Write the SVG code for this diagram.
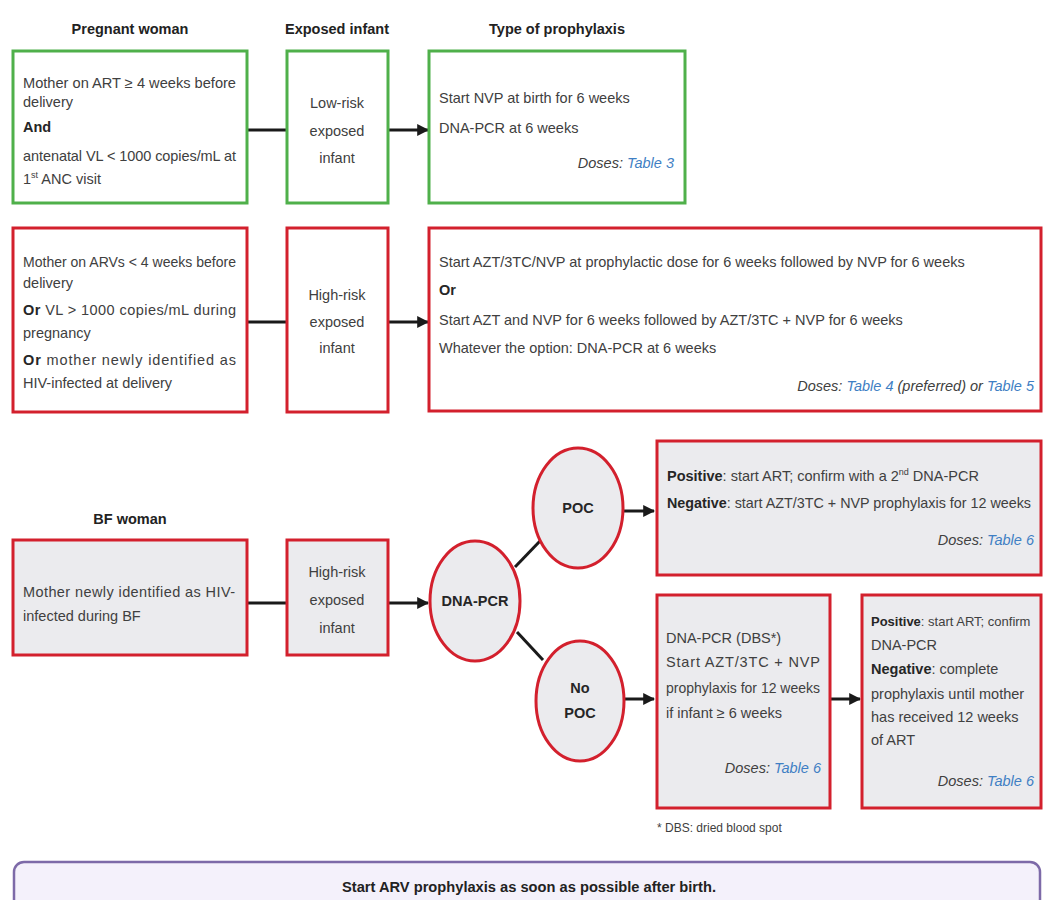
<svg xmlns="http://www.w3.org/2000/svg" width="1043" height="900" viewBox="0 0 1043 900">
<style>
text{font-family:"Liberation Sans",Arial,sans-serif;font-size:14.5px;fill:#404040}
.h{font-weight:bold;fill:#222;text-anchor:middle}
.b{font-weight:bold;fill:#262626}
.c{text-anchor:middle}
.r{text-anchor:end;font-style:italic}
.lk{fill:#3f7fc4}
.sup{font-size:9px}
.fn{font-size:12px}
.sm{font-size:13px}
.gbox{fill:#fff;stroke:#4fb04a;stroke-width:3}
.rbox{fill:#fff;stroke:#d3202d;stroke-width:3}
.rgray{fill:#ebebee;stroke:#d3202d;stroke-width:3}
.conn{stroke:#1a1a1a;stroke-width:3;fill:none}
.arr{stroke:#1a1a1a;stroke-width:3;fill:none;marker-end:url(#ah)}
</style>
<defs>
<marker id="ah" viewBox="0 0 10 10" refX="9" refY="5" markerWidth="4" markerHeight="4" orient="auto" markerUnits="strokeWidth">
<path d="M0,0L10,5L0,10z" fill="#1a1a1a"/>
</marker>
</defs>
<rect width="1043" height="900" fill="#fff"/>

<g id="headers">
<text class="h" x="130" y="34">Pregnant woman</text>
<text class="h" x="337" y="34">Exposed infant</text>
<text class="h" x="557" y="34">Type of prophylaxis</text>
<text class="h" x="130" y="524">BF woman</text>
</g>

<g id="connectors">
<line class="conn" x1="247" y1="130" x2="287" y2="130"/>
<line class="arr" x1="388" y1="130" x2="428" y2="130"/>
<line class="conn" x1="247" y1="322" x2="287" y2="322"/>
<line class="arr" x1="388" y1="322" x2="428" y2="322"/>
<line class="conn" x1="247" y1="603" x2="287" y2="603"/>
<line class="arr" x1="388" y1="603" x2="428" y2="603"/>
<line class="conn" x1="515" y1="567" x2="541" y2="540"/>
<line class="conn" x1="517" y1="632" x2="543" y2="660"/>
<line class="arr" x1="624" y1="511" x2="654" y2="511"/>
<line class="arr" x1="625" y1="699" x2="654" y2="699"/>
<line class="arr" x1="830" y1="699" x2="860" y2="699"/>
</g>

<g id="n-low-mother">
<rect class="gbox" x="13" y="51" width="234" height="152"/>
<text x="23" y="88" textLength="213" lengthAdjust="spacingAndGlyphs">Mother on ART ≥ 4 weeks before</text>
<text x="23" y="107">delivery</text>
<text x="23" y="132" class="b">And</text>
<text x="23" y="161" textLength="213" lengthAdjust="spacing">antenatal VL &lt; 1000 copies/mL at</text>
<text x="23" y="184">1<tspan class="sup" dy="-6">st</tspan><tspan dy="6"> ANC visit</tspan></text>
</g>

<g id="n-low-infant">
<rect class="gbox" x="287" y="51" width="101" height="152"/>
<text class="c" x="337" y="108">Low-risk</text>
<text class="c" x="337" y="136">exposed</text>
<text class="c" x="337" y="163">infant</text>
</g>

<g id="n-low-proph">
<rect class="gbox" x="429" y="51" width="256" height="152"/>
<text x="439" y="103">Start NVP at birth for 6 weeks</text>
<text x="439" y="133">DNA-PCR at 6 weeks</text>
<text class="r" x="674" y="168">Doses: <tspan class="lk">Table 3</tspan></text>
</g>

<g id="n-high-mother">
<rect class="rbox" x="13" y="228" width="234" height="184"/>
<text x="23" y="267" textLength="213" lengthAdjust="spacingAndGlyphs">Mother on ARVs &lt; 4 weeks before</text>
<text x="23" y="288">delivery</text>
<text x="23" y="315" textLength="213" lengthAdjust="spacing"><tspan class="b">Or</tspan> VL &gt; 1000 copies/mL during</text>
<text x="23" y="338">pregnancy</text>
<text x="23" y="365" textLength="213" lengthAdjust="spacing"><tspan class="b">Or</tspan> mother newly identified as</text>
<text x="23" y="388">HIV-infected at delivery</text>
</g>

<g id="n-high-infant">
<rect class="rbox" x="287" y="228" width="101" height="184"/>
<text class="c" x="337" y="300">High-risk</text>
<text class="c" x="337" y="327">exposed</text>
<text class="c" x="337" y="353">infant</text>
</g>

<g id="n-high-proph">
<rect class="rbox" x="429" y="228" width="612" height="183"/>
<text x="439" y="267">Start AZT/3TC/NVP at prophylactic dose for 6 weeks followed by NVP for 6 weeks</text>
<text x="439" y="295" class="b">Or</text>
<text x="439" y="325">Start AZT and NVP for 6 weeks followed by AZT/3TC + NVP for 6 weeks</text>
<text x="439" y="353">Whatever the option: DNA-PCR at 6 weeks</text>
<text class="r" x="1034" y="391">Doses: <tspan class="lk">Table 4</tspan> (preferred) or <tspan class="lk">Table 5</tspan></text>
</g>

<g id="n-bf-mother">
<rect class="rgray" x="13" y="540" width="234" height="115"/>
<text x="23" y="597" textLength="212" lengthAdjust="spacing">Mother newly identified as HIV-</text>
<text x="23" y="621">infected during BF</text>
</g>

<g id="n-bf-infant">
<rect class="rgray" x="287" y="540" width="101" height="115"/>
<text class="c" x="337" y="577">High-risk</text>
<text class="c" x="337" y="605">exposed</text>
<text class="c" x="337" y="633">infant</text>
</g>

<g id="n-dnapcr">
<ellipse class="rgray" cx="475" cy="601" rx="45" ry="60"/>
<text class="c b" x="475" y="606">DNA-PCR</text>
</g>

<g id="n-poc">
<ellipse class="rgray" cx="578" cy="508" rx="45" ry="60"/>
<text class="c b" x="578" y="513">POC</text>
</g>

<g id="n-nopoc">
<ellipse class="rgray" cx="580" cy="701" rx="44" ry="60"/>
<text class="c b" x="580" y="693">No</text>
<text class="c b" x="580" y="718">POC</text>
</g>

<g id="n-poc-result">
<rect class="rgray" x="657" y="441" width="384" height="134"/>
<text x="667" y="481"><tspan class="b">Positive</tspan>: start ART; confirm with a 2<tspan class="sup" dy="-6">nd</tspan><tspan dy="6"> DNA-PCR</tspan></text>
<text x="667" y="508" textLength="364" lengthAdjust="spacingAndGlyphs"><tspan class="b">Negative</tspan>: start AZT/3TC + NVP prophylaxis for 12 weeks</text>
<text class="r" x="1034" y="545">Doses: <tspan class="lk">Table 6</tspan></text>
</g>

<g id="n-dbs">
<rect class="rgray" x="657" y="595" width="173" height="213"/>
<text x="666" y="643">DNA-PCR (DBS*)</text>
<text x="666" y="667" textLength="154" lengthAdjust="spacing">Start AZT/3TC + NVP</text>
<text x="666" y="693" textLength="154" lengthAdjust="spacingAndGlyphs">prophylaxis for 12 weeks</text>
<text x="666" y="718">if infant ≥ 6 weeks</text>
<text class="r" x="821" y="773">Doses: <tspan class="lk">Table 6</tspan></text>
</g>

<g id="n-dbs-result">
<rect class="rgray" x="862" y="595" width="179" height="213"/>
<text class="sm" x="871" y="626"><tspan class="b">Positive</tspan>: start ART; confirm</text>
<text x="871" y="650">DNA-PCR</text>
<text x="871" y="674"><tspan class="b">Negative</tspan>: complete</text>
<text x="871" y="699">prophylaxis until mother</text>
<text x="871" y="722">has received 12 weeks</text>
<text x="871" y="745">of ART</text>
<text class="r" x="1034" y="786">Doses: <tspan class="lk">Table 6</tspan></text>
</g>

<g id="footnote">
<text class="fn" x="657" y="832">* DBS: dried blood spot</text>
</g>

<g id="n-footer">
<rect x="14" y="862" width="1026" height="60" rx="10" fill="#f4f1fb" stroke="#7d6aa8" stroke-width="2.5"/>
<text class="h" x="529" y="892" textLength="374" lengthAdjust="spacingAndGlyphs">Start ARV prophylaxis as soon as possible after birth.</text>
</g>
</svg>
